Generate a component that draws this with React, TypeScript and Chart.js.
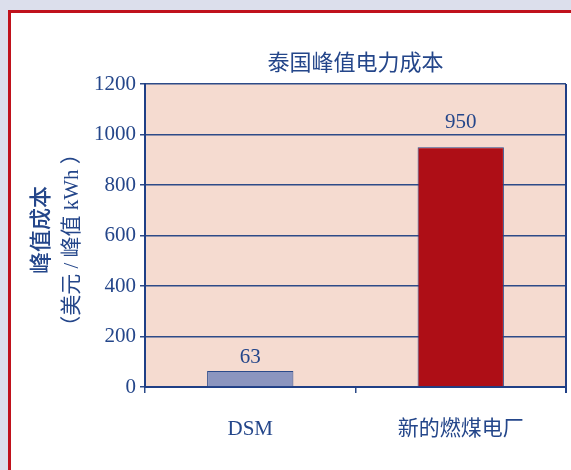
import React, { useEffect, useRef } from "react";
import { Chart, registerables } from "chart.js";

Chart.register(...registerables);

const categories = ["DSM", "新的燃煤电厂"];
const costValues = [63, 950];
const yTicks = [0, 200, 400, 600, 800, 1000, 1200];
const chartTitle = "泰国峰值电力成本";
const yTitleLine1 = "峰值成本";
const yTitleLine2 = "（美元 / 峰值 kWh ）";

const BLUE = "#24468a";
const GRID = "#2d4b88";
const SERIF = "'Liberation Serif', 'Noto Sans CJK SC', serif";
const CJK = "'Noto Sans CJK SC', 'Liberation Serif', sans-serif";
const LABEL_GAP = [14, 25];

export default function App() {
  const ref = useRef<HTMLCanvasElement | null>(null);

  useEffect(() => {
    if (!ref.current) return;
    const bgPlugin = {
      id: "bgPlugin",
      beforeDraw(chart: any) {
        const { ctx, chartArea: a } = chart;
        ctx.save();
        ctx.fillStyle = "#f5dbd0";
        ctx.fillRect(a.left, a.top, a.right - a.left, a.bottom - a.top);
        ctx.restore();
      },
      afterDraw(chart: any) {
        const { ctx, chartArea: a } = chart;
        ctx.save();
        ctx.strokeStyle = "#1f3f86";
        ctx.lineWidth = 2;
        ctx.beginPath();
        ctx.moveTo(a.right, a.top);
        ctx.lineTo(a.right, a.bottom + 6);
        ctx.stroke();
        ctx.fillStyle = BLUE;
        ctx.textAlign = "center";
        ctx.textBaseline = "middle";
        // chart title, centred over the plot area
        ctx.font = "22px " + CJK;
        ctx.fillText(chartTitle, (a.left + a.right) / 2, 62);
        // y-axis title, two lines
        ctx.save();
        ctx.translate(40, 230);
        ctx.rotate(-Math.PI / 2);
        ctx.font = "500 22px " + CJK;
        ctx.fillText(yTitleLine1, 0, 0);
        ctx.restore();
        ctx.save();
        ctx.translate(72, 240);
        ctx.rotate(-Math.PI / 2);
        ctx.font = "21px " + SERIF;
        ctx.fillText(yTitleLine2, 0, 0);
        ctx.restore();
        ctx.restore();
      },
      afterDatasetsDraw(chart: any) {
        const { ctx } = chart;
        const meta = chart.getDatasetMeta(0);
        ctx.save();
        ctx.fillStyle = BLUE;
        ctx.font = "21px " + SERIF;
        ctx.textAlign = "center";
        ctx.textBaseline = "middle";
        meta.data.forEach((bar: any, i: number) => {
          ctx.fillText(String(costValues[i]), bar.x, bar.y - LABEL_GAP[i]);
        });
        ctx.restore();
      },
    };

    const chart = new Chart(ref.current, {
      type: "bar",
      data: {
        labels: categories,
        datasets: [
          {
            data: costValues,
            backgroundColor: ["#8b95bf", "#ae0e16"],
            borderColor: "#2b4a8a",
            borderWidth: 1,
            barPercentage: 1,
            categoryPercentage: 0.41,
          },
        ],
      },
      options: {
        responsive: false,
        animation: false,
        layout: { padding: { left: 0, right: 5, top: 84, bottom: 0 } },
        plugins: {
          legend: { display: false },
          tooltip: { enabled: false },
          title: { display: false },
        },
        scales: {
          x: {
            grid: {
              display: true,
              drawOnChartArea: false,
              drawTicks: true,
              tickLength: 6,
              color: GRID,
              lineWidth: 1.5,
            },
            border: { display: true, color: "#1f3f86", width: 2 },
            ticks: {
              color: BLUE,
              font: { family: SERIF, size: 21 },
              padding: 24,
            },
            afterFit(scale: any) {
              scale.height = 83;
            },
          },
          y: {
            min: 0,
            max: 1200,
            afterBuildTicks(scale: any) {
              scale.ticks = yTicks.map((v) => ({ value: v }));
            },
            grid: {
              color: GRID,
              lineWidth: 1.5,
              tickLength: 5,
            },
            border: { display: true, color: "#1f3f86", width: 2 },
            ticks: {
              color: BLUE,
              font: { family: SERIF, size: 21 },
              padding: 4,
              callback: (v: any) => String(v),
            },
            afterFit(scale: any) {
              scale.width = 145;
            },
          },
        },
      },
      plugins: [bgPlugin],
    });
    return () => chart.destroy();
  }, []);

  return (
    <div
      style={{
        position: "fixed",
        left: 0,
        top: 0,
        width: 571,
        height: 470,
        overflow: "hidden",
        background: "#dcdfec",
      }}
    >
      <div
        style={{
          position: "absolute",
          left: 8,
          top: 10,
          width: 600,
          height: 500,
          background: "#ffffff",
          borderLeft: "3px solid #c0121c",
          borderTop: "3px solid #c0121c",
          boxSizing: "border-box",
        }}
      />
      <canvas
        ref={ref}
        width={571}
        height={470}
        style={{ position: "absolute", left: 0, top: 0, width: 571, height: 470 }}
      />
    </div>
  );
}
